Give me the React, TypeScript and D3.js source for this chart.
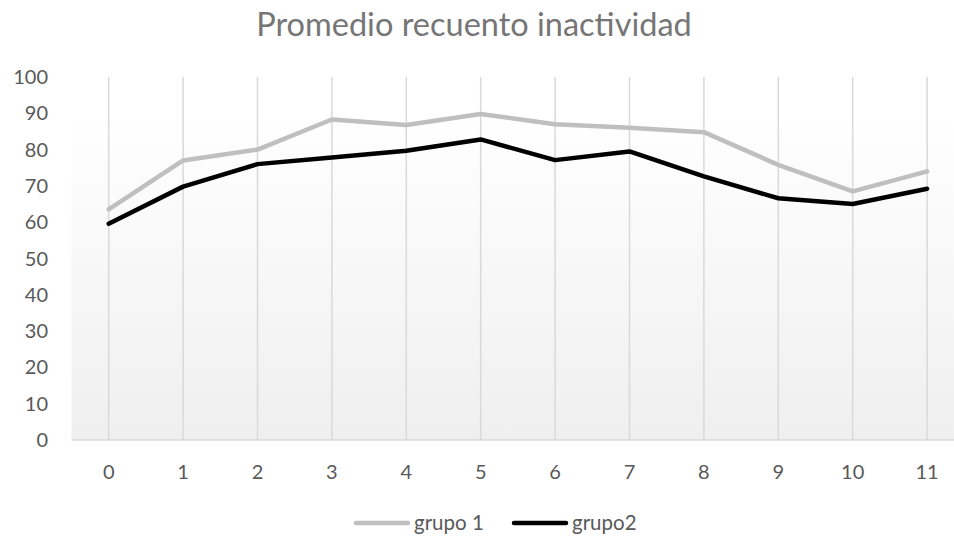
import React from "react";
import * as d3 from "d3";

const title = "Promedio recuento inactividad";
const categories = ["0", "1", "2", "3", "4", "5", "6", "7", "8", "9", "10", "11"];
const grupo1 = [63.5, 77, 80, 88.3, 86.8, 89.8, 87, 86, 84.8, 75.8, 68.5, 74];
const grupo2 = [59.6, 69.8, 76, 77.8, 79.7, 82.8, 77.1, 79.5, 72.6, 66.6, 65, 69.2];
const yTicks = [0, 10, 20, 30, 40, 50, 60, 70, 80, 90, 100];
const seriesNames = ["grupo 1", "grupo2"];

const W = 954;
const H = 538;
const left = 71.5;
const step = 74.4;
const top = 77;
const bottom = 440;
const FONT = "Lato, 'Open Sans', sans-serif";

export default function App() {
  const x = d3
    .scaleBand<string>()
    .domain(categories)
    .range([left, left + step * categories.length]);
  const y = d3.scaleLinear().domain([0, 100]).range([bottom, top]);
  const cx = (c: string) => (x(c) as number) + x.bandwidth() / 2;
  const line = d3
    .line<number>()
    .x((_, i) => cx(categories[i]))
    .y((v) => y(v));

  const series = [
    { name: seriesNames[0], values: grupo1, color: "#bfbfbf" },
    { name: seriesNames[1], values: grupo2, color: "#000000" },
  ];

  return (
    <svg
      width={W}
      height={H}
      style={{ position: "absolute", left: 0, top: 0, background: "#fff" }}
    >
      <defs>
        <linearGradient id="bg" x1="0" y1="0" x2="0" y2="1">
          <stop offset="0" stopColor="#ffffff" />
          <stop offset="0.1" stopColor="#ffffff" />
          <stop offset="1" stopColor="#efefef" />
        </linearGradient>
      </defs>
      <rect
        x={left}
        y={top}
        width={step * categories.length}
        height={bottom - top}
        fill="url(#bg)"
      />
      <text
        x={474}
        y={36}
        textAnchor="middle"
        fontFamily={FONT}
        fontSize={32.5}
        fill="#767676"
      >
        {title}
      </text>
      {categories.map((c) => (
        <line
          key={"g" + c}
          x1={cx(c)}
          x2={cx(c)}
          y1={top}
          y2={bottom}
          stroke="#d9d9d9"
          strokeWidth={1.5}
        />
      ))}
      <line
        x1={left}
        x2={W}
        y1={bottom}
        y2={bottom}
        stroke="#d9d9d9"
        strokeWidth={1.5}
      />
      {yTicks.map((t) => (
        <text
          key={"y" + t}
          x={48}
          y={y(t)}
          dy="0.35em"
          textAnchor="end"
          fontFamily={FONT}
          fontSize={20}
          fill="#595959"
        >
          {t}
        </text>
      ))}
      {categories.map((c) => (
        <text
          key={"x" + c}
          x={cx(c)}
          y={472}
          dy="0.35em"
          textAnchor="middle"
          fontFamily={FONT}
          fontSize={20}
          fill="#595959"
        >
          {c}
        </text>
      ))}
      {series.map((s) => (
        <path
          key={s.name}
          d={line(s.values) || ""}
          fill="none"
          stroke={s.color}
          strokeWidth={4.5}
          strokeLinejoin="round"
          strokeLinecap="round"
        />
      ))}
      {series.map((s, i) => {
        const lx = i === 0 ? 356 : 514;
        return (
          <g key={"l" + s.name}>
            <line
              x1={lx}
              x2={lx + 52}
              y1={523}
              y2={523}
              stroke={s.color}
              strokeWidth={4.5}
              strokeLinecap="round"
            />
            <text
              x={lx + 58}
              y={523}
              dy="0.35em"
              fontFamily={FONT}
              fontSize={20.5}
              fill="#595959"
            >
              {s.name}
            </text>
          </g>
        );
      })}
    </svg>
  );
}
